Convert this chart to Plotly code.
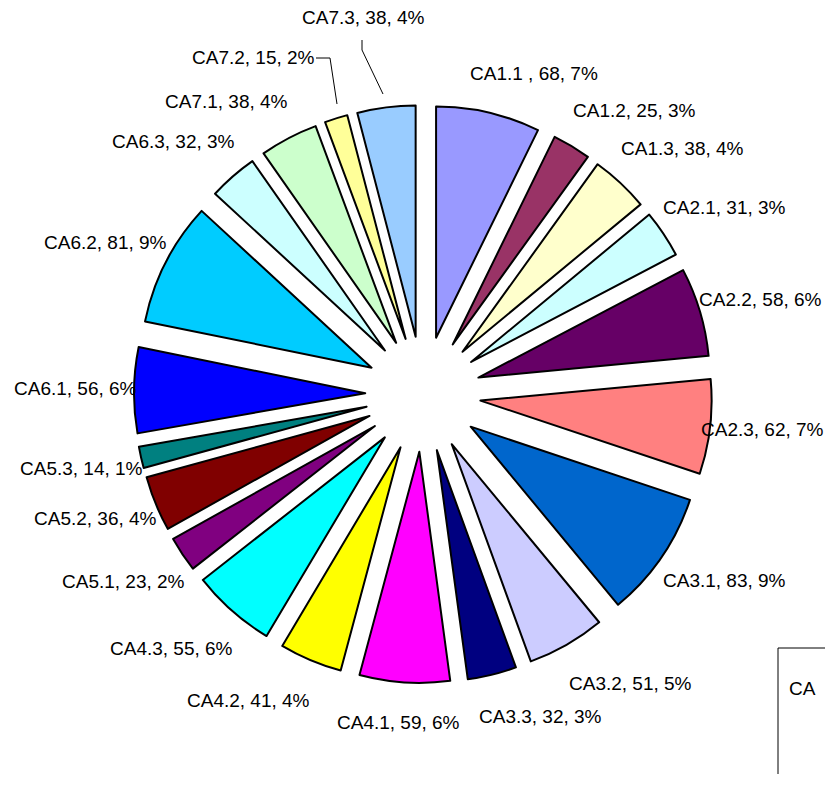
import plotly.graph_objects as go

categorias = ["CA1.1 ", "CA1.2", "CA1.3", "CA2.1", "CA2.2", "CA2.3",
              "CA3.1", "CA3.2", "CA3.3", "CA4.1", "CA4.2", "CA4.3",
              "CA5.1", "CA5.2", "CA5.3", "CA6.1", "CA6.2", "CA6.3",
              "CA7.1", "CA7.2", "CA7.3"]
valores = [68, 25, 38, 31, 58, 62, 83, 51, 32, 59, 41, 55,
           23, 36, 14, 56, 81, 32, 38, 15, 38]
colores = ["#9999FF", "#993366", "#FFFFCC", "#CCFFFF", "#660066", "#FF8080",
           "#0066CC", "#CCCCFF", "#000080", "#FF00FF", "#FFFF00", "#00FFFF",
           "#800080", "#800000", "#008080", "#0000FF", "#00CCFF", "#CCFFFF",
           "#CCFFCC", "#FFFF99", "#99CCFF"]

# posición de cada etiqueta (px de pantalla: borde izquierdo, centro vertical)
pos_etiquetas = [(468, 73), (571, 111), (619, 149), (661, 208), (697, 299), (699, 429),
                 (661, 580), (567, 683), (477, 716), (335, 722), (185, 700), (108, 648),
                 (60, 581), (32, 519), (18, 468), (12, 388), (42, 243), (110, 141),
                 (163, 101), (190, 57), (300, 18)]

OFF = 8  # margen del body de la página
W, H = 833 - 2 * OFF, 766
FUENTE = dict(family="Liberation Sans, Arial, sans-serif", size=19, color="black")


def px(x, y):
    """Pixel de pantalla -> coordenadas de papel."""
    return (x - OFF) / W, 1 - (y - OFF) / H


# centro del pastel y semilado del dominio (px de pantalla)
CX, CY, SEMI = 423, 394, 289
dx0, dy0 = px(CX - SEMI, CY + SEMI)
dx1, dy1 = px(CX + SEMI, CY - SEMI)

fig = go.Figure(go.Pie(
    labels=categorias,
    values=valores,
    sort=False,
    direction="clockwise",
    rotation=0,
    pull=[0.25] * len(valores),
    marker=dict(colors=colores, line=dict(color="black", width=2)),
    textinfo="none",
    automargin=False,
    domain=dict(x=[dx0, dx1], y=[dy0, dy1]),
    showlegend=False,
    hoverinfo="label+value+percent",
))

total = sum(valores)
for cat, val, (x, y) in zip(categorias, valores, pos_etiquetas):
    ax, ay = px(x, y)
    fig.add_annotation(text=f"{cat}, {val}, {round(val / total * 100)}%",
                       xref="paper", yref="paper", x=ax, y=ay,
                       xanchor="left", yanchor="middle", showarrow=False,
                       font=FUENTE)

# líneas guía de CA7.2 y CA7.3
for pts in ([(316, 58), (330, 58), (337, 104)], [(362, 40), (362, 50), (383, 94)]):
    ruta = "M " + " L ".join(f"{px(x, y)[0]},{px(x, y)[1]}" for x, y in pts)
    fig.add_shape(type="path", xref="paper", yref="paper", path=ruta,
                  line=dict(color="black", width=1))

# recuadro de leyenda recortado (esquina inferior derecha)
x0, y1 = px(778, 648)
fig.add_shape(type="rect", xref="paper", yref="paper",
              x0=x0, x1=1.05, y0=-0.05, y1=y1,
              line=dict(color="black", width=1))
lx, ly = px(818, 688)
fig.add_annotation(text="CA", xref="paper", yref="paper", x=lx, y=ly,
                   xanchor="right", yanchor="middle", showarrow=False, font=FUENTE)

fig.update_layout(
    width=W, height=H,
    margin=dict(l=0, r=0, t=0, b=0, autoexpand=False),
    paper_bgcolor="white",
    plot_bgcolor="white",
)

fig.write_html("out.html")
